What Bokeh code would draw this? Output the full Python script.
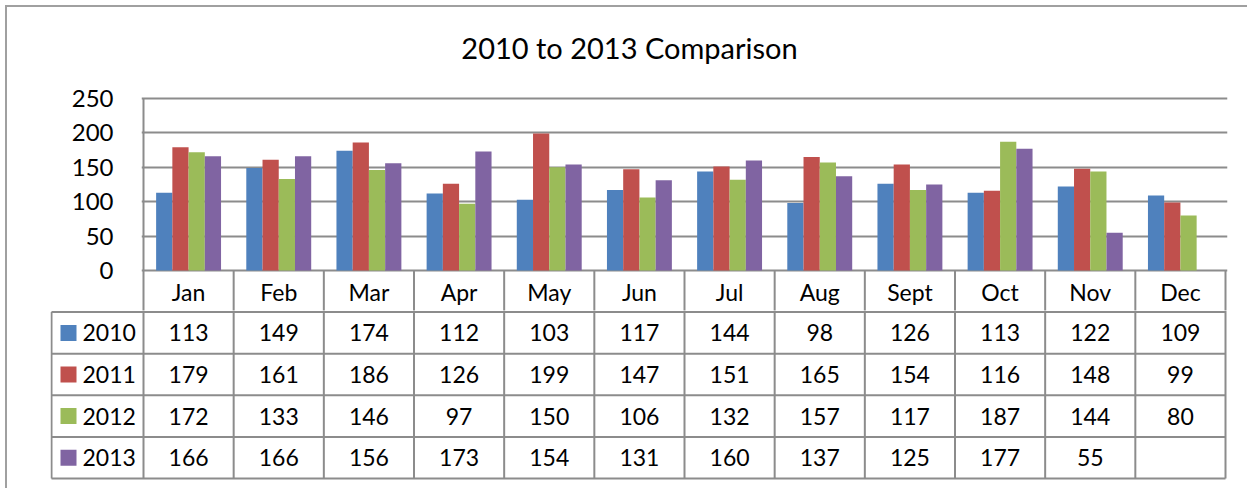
from bokeh.plotting import figure
from bokeh.layouts import column
from bokeh.models import Range1d, FixedTicker, ColumnDataSource
from bokeh.transform import dodge
from bokeh.core.properties import value
from bokeh.embed import file_html
from bokeh.resources import INLINE
import numpy as np

# ---------------- data ----------------
months = ["Jan", "Feb", "Mar", "Apr", "May", "Jun", "Jul", "Aug", "Sept", "Oct", "Nov", "Dec"]
series_names = ["2010", "2011", "2012", "2013"]
v2010 = [113, 149, 174, 112, 103, 117, 144, 98, 126, 113, 122, 109]
v2011 = [179, 161, 186, 126, 199, 147, 151, 165, 154, 116, 148, 99]
v2012 = [172, 133, 146, 97, 150, 106, 132, 157, 117, 187, 144, 80]
v2013 = [166, 166, 156, 173, 154, 131, 160, 137, 125, 177, 55, None]
y_ticks = [0, 50, 100, 150, 200, 250]
title_text = "2010 to 2013 Comparison"

colors = ["#4F81BD", "#C0504D", "#9BBB59", "#8064A2"]
series = [v2010, v2011, v2012, v2013]

FONT = "Lato"
GRID = "#8c8c8c"

# ---------------- geometry (page pixels) ----------------
U = 1082 / 12.0          # px per category
K = 172 / 250.0          # px per value unit
ROW = 41.6               # table row height
Y0 = 270                 # page y of value 0
SPLIT = 310              # page y where top figure ends
D = 7                    # content offset (outer border)
W = 1247 - D

# ---------------- top: bar chart + header row ----------------
top = figure(width=W, height=SPLIT - D, output_backend="svg", toolbar_location=None,
             x_axis_location=None,
             x_range=Range1d(-2 / U, 12 + 2 / U),
             y_range=Range1d(-(SPLIT - Y0) / K, (Y0 - D) / K),
             min_border_left=141 - D, min_border_right=20, min_border_top=0, min_border_bottom=0)
top.frame_align = False
top.outline_line_color = None
top.xgrid.visible = False
top.ygrid.ticker = FixedTicker(ticks=y_ticks)
top.ygrid.grid_line_color = GRID
top.ygrid.grid_line_width = 2
top.yaxis.ticker = FixedTicker(ticks=y_ticks)
top.yaxis.axis_line_color = None
top.yaxis.major_tick_line_color = None
top.yaxis.minor_tick_line_color = None
top.yaxis.major_label_standoff = 22
top.yaxis.major_label_text_font = FONT
top.yaxis.major_label_text_font_size = "24px"
top.yaxis.major_label_text_color = "black"

data = {"xc": [i + 0.5 for i in range(12)]}
for name, vals in zip(series_names, series):
    data[name] = [np.nan if v is None else v for v in vals]
src = ColumnDataSource(data)

offsets = [-0.27, -0.09, 0.09, 0.27]
for name, col, off in zip(series_names, colors, offsets):
    top.vbar(x=dodge("xc", off, range=top.x_range), top=name, width=0.18,
             source=src, fill_color=col, line_color=None)

# left axis line of plot area + header column lines
below = -(SPLIT - Y0 + 10) / K
top.segment(x0=[0], y0=[0], x1=[0], y1=[250], line_color=GRID, line_width=2)
hx = list(range(13))
top.segment(x0=hx, y0=[0] * 13, x1=hx, y1=[below] * 13, line_color=GRID, line_width=2)

# month header
top.text(x=[i + 0.5 for i in range(12)], y=[-(ROW / 2 + 1) / K] * 12, text=months,
         text_font=value(FONT), text_font_size="23px", text_align="center",
         text_baseline="middle", text_color="black")

# title
top.text(x=[(629 - 143) / U], y=[(Y0 - 47) / K], text=[title_text],
         text_font=value(FONT), text_font_size="29px", text_align="center",
         text_baseline="middle", text_color="black")

# ---------------- bottom: data rows ----------------
LEFT_COL = (143 - 51) / U
bot = figure(width=W, height=488 - SPLIT, output_backend="svg", toolbar_location=None,
             x_axis_location=None, y_axis_location=None,
             x_range=Range1d(-(143 - 50) / U, 12 + 2 / U),
             y_range=Range1d((480 - Y0) / ROW, (SPLIT - Y0) / ROW),
             min_border_left=50 - D, min_border_right=20, min_border_top=0, min_border_bottom=8)
bot.frame_align = False
bot.outline_line_color = None
bot.grid.visible = False

# horizontal lines
hy = [1, 2, 3, 4, 5]
bot.segment(x0=[-LEFT_COL] * 5, y0=hy, x1=[12] * 5, y1=hy, line_color=GRID, line_width=2)
# vertical lines
vx = list(range(13)) + [-LEFT_COL]
vy0 = [0] * 13 + [1]
bot.segment(x0=vx, y0=vy0, x1=vx, y1=[5] * 14, line_color=GRID, line_width=2)

# values
for r, vals in enumerate(series):
    xs, ts = [], []
    for i, v in enumerate(vals):
        if v is not None:
            xs.append(i + 0.5)
            ts.append(str(v))
    bot.text(x=xs, y=[r + 1.5] * len(xs), text=ts,
             text_font=value(FONT), text_font_size="23px", text_align="center",
             text_baseline="middle", text_color="black")

# legend keys and series names
key_x = -(143 - 68) / U
name_x = -(143 - 82) / U
bot.rect(x=[key_x] * 4, y=[r + 1.5 for r in range(4)], width=16, height=16,
         width_units="screen", height_units="screen", fill_color=colors, line_color=None)
bot.text(x=[name_x] * 4, y=[r + 1.5 for r in range(4)], text=series_names,
         text_font=value(FONT), text_font_size="23px", text_align="left",
         text_baseline="middle", text_color="black")

layout = column(top, bot, spacing=0,
                styles={"margin-left": "5px", "margin-top": "5px",
                        "border-left": "2px solid #a0a0a0", "border-top": "2px solid #a0a0a0"})
open("out.html", "w").write(file_html(layout, INLINE))
